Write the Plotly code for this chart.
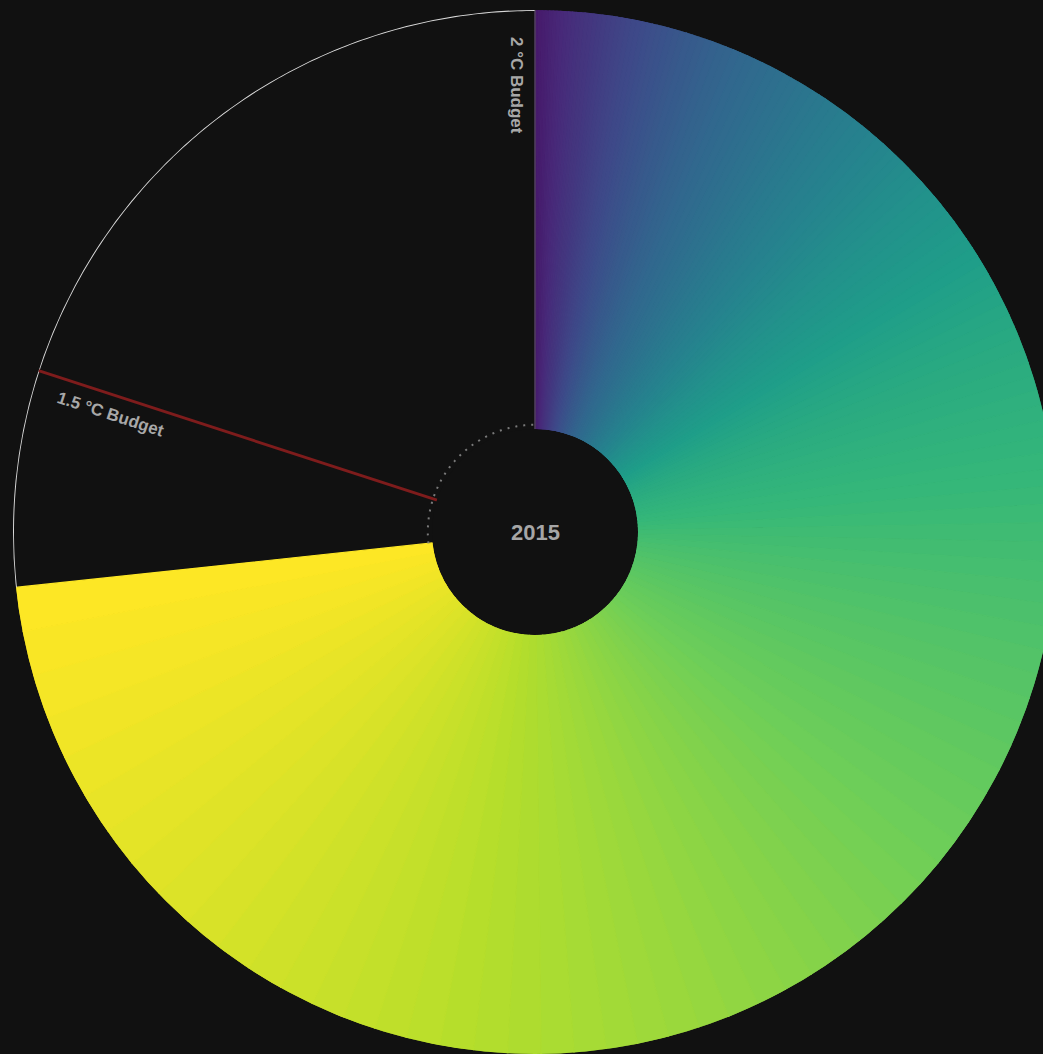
import numpy as np
import plotly.graph_objects as go
from plotly.colors import sample_colorscale

# ---------------- data ----------------
years = list(range(1870, 2016))
# annual global CO2 emissions (fossil + land use), GtCO2 / yr
emissions = [
    3.3, 3.3, 3.4, 3.5, 3.4, 3.5, 3.5, 3.6, 3.6, 3.7,
    3.8, 3.9, 4.0, 4.1, 4.1, 4.1, 4.2, 4.3, 4.5, 4.5,
    4.6, 4.7, 4.7, 4.7, 4.7, 4.9, 5.0, 5.1, 5.2, 5.4,
    5.6, 5.7, 5.8, 6.1, 6.1, 6.3, 6.5, 7.0, 6.8, 7.0,
    7.2, 7.3, 7.5, 7.9, 7.4, 7.3, 7.6, 7.9, 7.9, 7.1,
    7.8, 7.2, 7.5, 8.2, 8.1, 8.3, 8.2, 8.6, 8.6, 9.1,
    8.6, 8.0, 7.5, 7.8, 8.2, 8.5, 9.0, 9.4, 9.1, 9.5,
    9.9, 10.0, 10.0, 10.1, 10.0, 8.7, 9.2, 9.9, 10.4, 10.1,
    10.8, 11.4, 11.5, 11.8, 11.9, 12.6, 13.2, 13.7, 14.0, 14.6,
    15.0, 14.9, 15.4, 16.1, 16.8, 17.4, 18.1, 18.5, 19.3, 20.3,
    21.3, 21.9, 22.7, 23.7, 23.6, 23.4, 24.6, 25.3, 25.6, 26.5,
    26.0, 25.6, 25.4, 25.5, 26.3, 26.9, 27.3, 27.9, 28.9, 29.3,
    29.3, 29.6, 29.3, 29.4, 29.9, 30.7, 31.1, 31.6, 31.6, 31.7,
    30.5, 30.9, 31.3, 32.9, 34.3, 35.3, 36.2, 37.1, 37.6, 37.2,
    38.9, 40.0, 40.6, 41.2, 41.5, 41.4,
]
budget_2c = 3035      # GtCO2, full circle
budget_15c = 2428     # GtCO2
center_label = "2015"
label_2c = "2 °C Budget"
label_15c = "1.5 °C Budget"

# ---------------- derived ----------------
BG = "#111111"
FONT = "Liberation Sans, Arial, Helvetica, sans-serif"
n = len(years)
deg = np.array(emissions) / budget_2c * 360.0
cum = np.cumsum(deg)
theta_mid = cum - deg / 2
end_angle = float(cum[-1])
angle_15 = budget_15c / budget_2c * 360.0
colors = sample_colorscale("Viridis", list(np.linspace(0.07, 1, n)))

fig = go.Figure()
fig.add_trace(go.Barpolar(
    r=[1] * n, theta=theta_mid, width=deg, base=0,
    marker=dict(color=colors, line=dict(color=colors, width=1.2)),
    customdata=years, hovertemplate="%{customdata}<extra></extra>",
))

arc = np.linspace(end_angle, 360, 200)
# dotted inner circle over the remaining budget
fig.add_trace(go.Scatterpolar(
    r=[0.01] * len(arc), theta=arc, mode="lines",
    line=dict(color="#7a7a7a", width=2, dash="2px,6px"),
    hoverinfo="skip", cliponaxis=False,
))
# outer arc of the remaining budget
fig.add_trace(go.Scatterpolar(
    r=[1] * len(arc), theta=arc, mode="lines",
    line=dict(color="#d8d8d8", width=2),
    hoverinfo="skip", cliponaxis=False,
))
# 2 °C budget marker line
fig.add_trace(go.Scatterpolar(
    r=[0, 1], theta=[360, 360], mode="lines",
    line=dict(color="#555555", width=1),
    hoverinfo="skip", cliponaxis=False,
))
# 1.5 °C budget marker line
fig.add_trace(go.Scatterpolar(
    r=[0, 1], theta=[angle_15, angle_15], mode="lines",
    line=dict(color="#7e1c1c", width=2.8),
    hoverinfo="skip", cliponaxis=False,
))


def to_paper(theta_deg, rho):
    t = np.radians(theta_deg)
    return 0.5 + 0.5 * rho * np.sin(t), 0.5 + 0.5 * rho * np.cos(t)


x15, y15 = to_paper(angle_15 - 2.5, 0.843)
x2, y2 = to_paper(360 - 2.3, 0.857)

fig.update_layout(
    width=1070, height=1064,
    margin=dict(l=13, r=13, t=10, b=10, pad=0),
    paper_bgcolor=BG, plot_bgcolor=BG, showlegend=False,
    polar=dict(
        domain=dict(x=[0, 1], y=[0, 1]),
        bgcolor=BG, hole=103 / 522, bargap=0,
        radialaxis=dict(range=[0, 1], visible=False, showgrid=False),
        angularaxis=dict(direction="clockwise", rotation=90, visible=False,
                         showgrid=False, showline=False),
    ),
    annotations=[
        dict(text="<b>%s</b>" % center_label, x=0.5, y=0.5, xref="paper", yref="paper",
             xanchor="center", yanchor="middle", showarrow=False,
             font=dict(family=FONT, size=22, color="#a6a6a6")),
        dict(text="<b>%s</b>" % label_2c, x=x2, y=y2, xref="paper", yref="paper",
             xanchor="center", yanchor="middle", textangle=90, showarrow=False,
             font=dict(family=FONT, size=17, color="#a8a8a8")),
        dict(text="<b>%s</b>" % label_15c, x=x15, y=y15, xref="paper", yref="paper",
             xanchor="center", yanchor="middle", textangle=angle_15 - 270,
             showarrow=False, font=dict(family=FONT, size=17, color="#a8a8a8")),
    ],
)

post = ("document.body.style.margin='0';document.body.style.overflow='hidden';"
        "document.body.style.background='#111111';"
        "document.documentElement.style.background='#111111';")
fig.write_html("out.html", post_script=post, config={"displayModeBar": False})
